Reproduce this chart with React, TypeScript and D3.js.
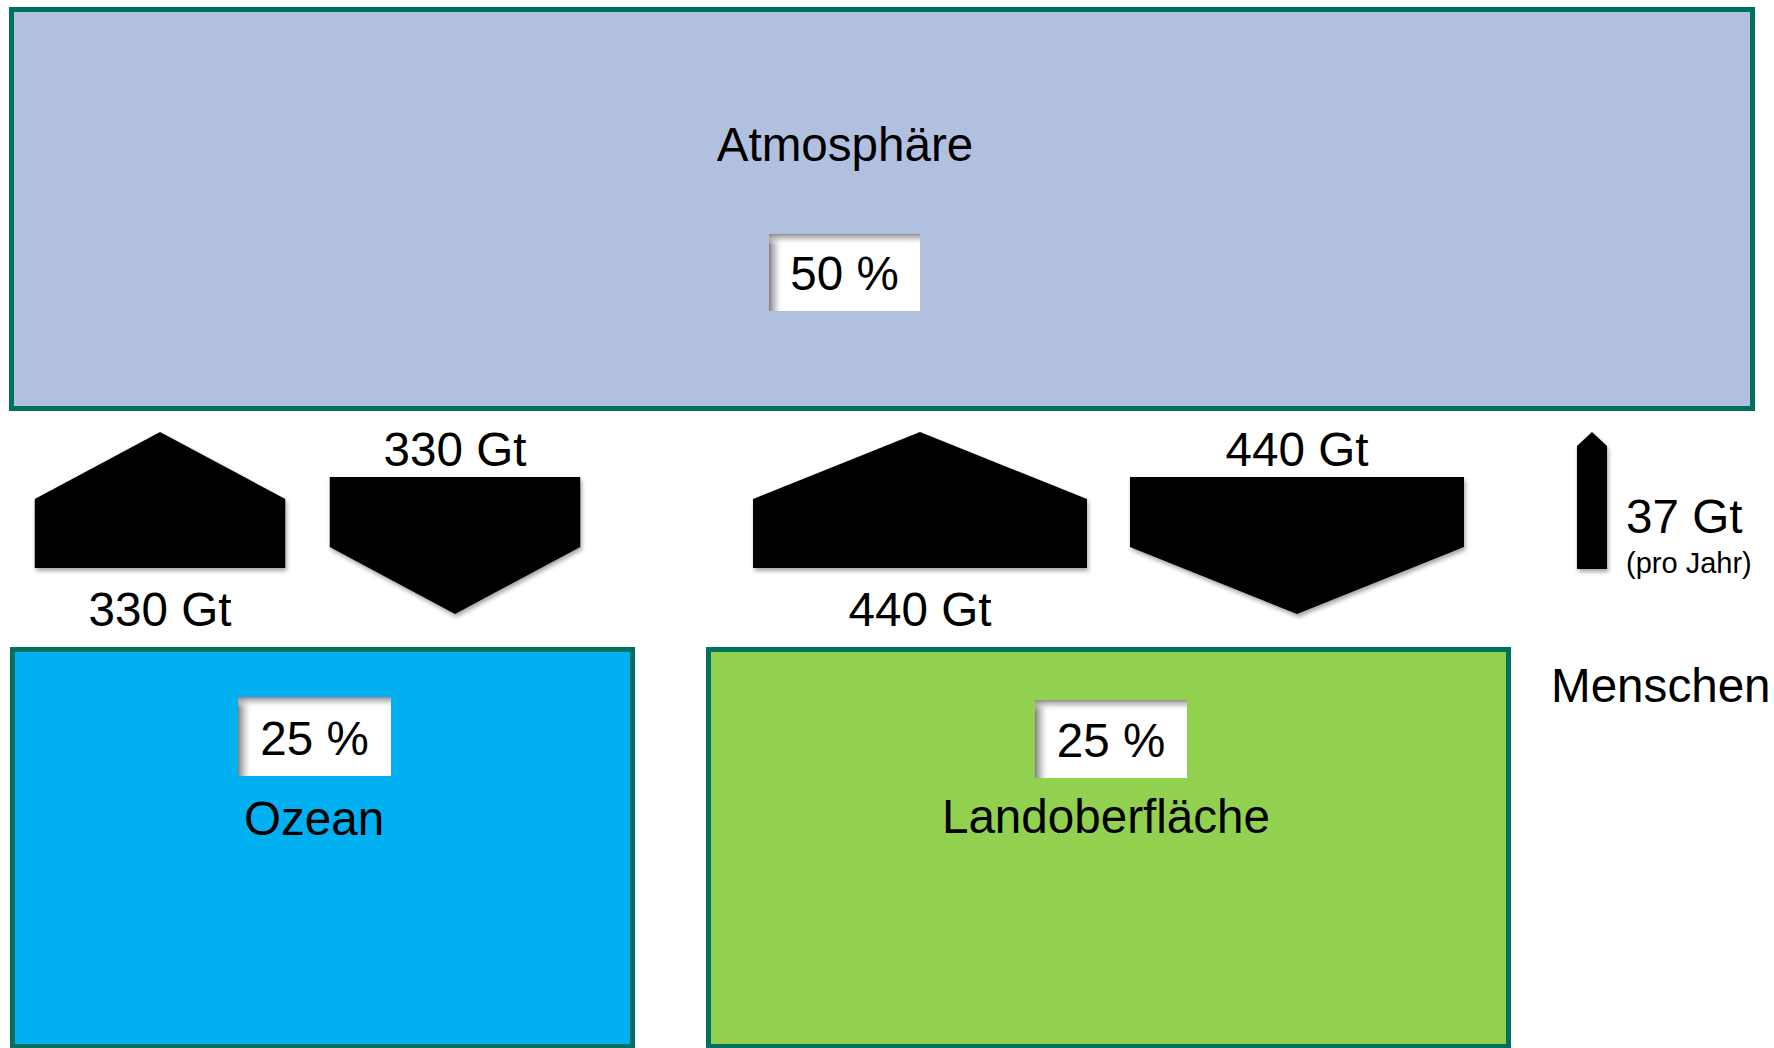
import React from "react";
import * as d3 from "d3";

// Carbon reservoirs and their share of emitted CO2
const reservoirNames = ["Atmosphäre", "Ozean", "Landoberfläche"];
const reservoirShares = [50, 25, 25];
const reservoirColors = ["#B2C0E0", "#00B0F0", "#92D050"];

// Exchange fluxes between atmosphere and surface reservoirs (Gt)
const fluxValues = [330, 330, 440, 440];
const fluxDirections = ["up", "down", "up", "down"];

// Human emissions
const humanFlux = 37;
const humanLabel = "Menschen";
const humanUnitNote = "(pro Jahr)";
const unit = "Gt";

const W = 1774;
const H = 1048;
const FONT = "'Liberation Sans', Arial, Helvetica, sans-serif";
const FS = 47.6;
const STROKE = "#00705F";

// arrow widths are proportional to the flux
const widthScale = d3.scaleLinear().domain([0, 440]).range([0, 334]);
// arrow centres along the flux row
const fluxCenters = [160, 455, 920, 1297];
const humanCenter = 1592;

const line = d3.line<[number, number]>();

function arrowPath(cx: number, w: number, dir: string, top: number, bottom: number) {
  const hw = w / 2;
  const head = Math.min(67, hw * 0.93);
  const pts: [number, number][] =
    dir === "up"
      ? [
          [cx - hw, bottom],
          [cx - hw, top + head],
          [cx, top],
          [cx + hw, top + head],
          [cx + hw, bottom],
        ]
      : [
          [cx - hw, top],
          [cx + hw, top],
          [cx + hw, bottom - head],
          [cx, bottom],
          [cx - hw, bottom - head],
        ];
  return line(pts) + "Z";
}

function ShareBox({ x, y, w, h, share }: { x: number; y: number; w: number; h: number; share: number }) {
  return (
    <g>
      <rect x={x} y={y} width={w} height={h} fill="#fff" />
      <rect x={x} y={y} width={14} height={h} fill="url(#shadeLeft)" />
      <rect x={x} y={y} width={w} height={11} fill="url(#shadeTop)" />
      <text
        x={x + w / 2}
        y={y + h - 21}
        textAnchor="middle"
        fontSize={FS}
        fontFamily={FONT}
        fill="#000"
      >
        {share} %
      </text>
    </g>
  );
}

export default function App() {
  const boxes = [
    { x: 11.5, y: 9.5, w: 1741, h: 399, share: { x: 769, y: 234, w: 151, h: 77 }, label: { x: 845, y: 161 } },
    { x: 12.5, y: 649.5, w: 620, h: 397, share: { x: 238, y: 697, w: 153, h: 79 }, label: { x: 314, y: 835 } },
    { x: 708.5, y: 649.5, w: 800, h: 397, share: { x: 1035, y: 700, w: 152, h: 78 }, label: { x: 1106, y: 833 } },
  ];

  return (
    <svg
      width={W}
      height={H}
      viewBox={`0 0 ${W} ${H}`}
      style={{ position: "absolute", left: 0, top: 0, background: "#fff" }}
    >
      <defs>
        <linearGradient id="shadeLeft" x1="0" x2="1" y1="0" y2="0">
          <stop offset="0" stopColor="#7f7f7f" stopOpacity={1} />
          <stop offset="0.5" stopColor="#b8b8b8" stopOpacity={0.6} />
          <stop offset="1" stopColor="#ffffff" stopOpacity={0} />
        </linearGradient>
        <linearGradient id="shadeTop" x1="0" x2="0" y1="0" y2="1">
          <stop offset="0" stopColor="#8c8c8c" stopOpacity={1} />
          <stop offset="0.5" stopColor="#c4c4c4" stopOpacity={0.6} />
          <stop offset="1" stopColor="#ffffff" stopOpacity={0} />
        </linearGradient>
        <filter id="arrowShadow" x="-10%" y="-10%" width="130%" height="130%">
          <feDropShadow dx={1.5} dy={3} stdDeviation={2.2} floodColor="#000" floodOpacity={0.35} />
        </filter>
      </defs>

      {boxes.map((b, i) => (
        <g key={reservoirNames[i]}>
          <rect x={b.x} y={b.y} width={b.w} height={b.h} fill={reservoirColors[i]} stroke={STROKE} strokeWidth={5} />
          <ShareBox {...b.share} share={reservoirShares[i]} />
          <text
            x={b.label.x}
            y={b.label.y}
            textAnchor="middle"
            fontSize={FS}
            fontFamily={FONT}
            fill="#000"
          >
            {reservoirNames[i]}
          </text>
        </g>
      ))}

      {fluxValues.map((v, i) => {
        const dir = fluxDirections[i];
        const cx = fluxCenters[i];
        const w = widthScale(v);
        const d = dir === "up" ? arrowPath(cx, w, "up", 432, 568) : arrowPath(cx, w, "down", 477, 614);
        return (
          <g key={i}>
            <path d={d} fill="#000" filter="url(#arrowShadow)" />
            <text
              x={cx}
              y={dir === "up" ? 626 : 466}
              textAnchor="middle"
              fontSize={FS}
              fontFamily={FONT}
              fill="#000"
            >
              {v} {unit}
            </text>
          </g>
        );
      })}

      <g>
        <path d={arrowPath(humanCenter, widthScale(humanFlux) + 2, "up", 432, 569)} fill="#000" filter="url(#arrowShadow)" />
        <text x={1626} y={533} fontSize={FS} fontFamily={FONT} fill="#000">
          {humanFlux} {unit}
        </text>
        <text x={1626} y={573} fontSize={29} fontFamily={FONT} fill="#000">
          {humanUnitNote}
        </text>
        <text x={1551} y={702} fontSize={FS} fontFamily={FONT} fill="#000">
          {humanLabel}
        </text>
      </g>
    </svg>
  );
}
